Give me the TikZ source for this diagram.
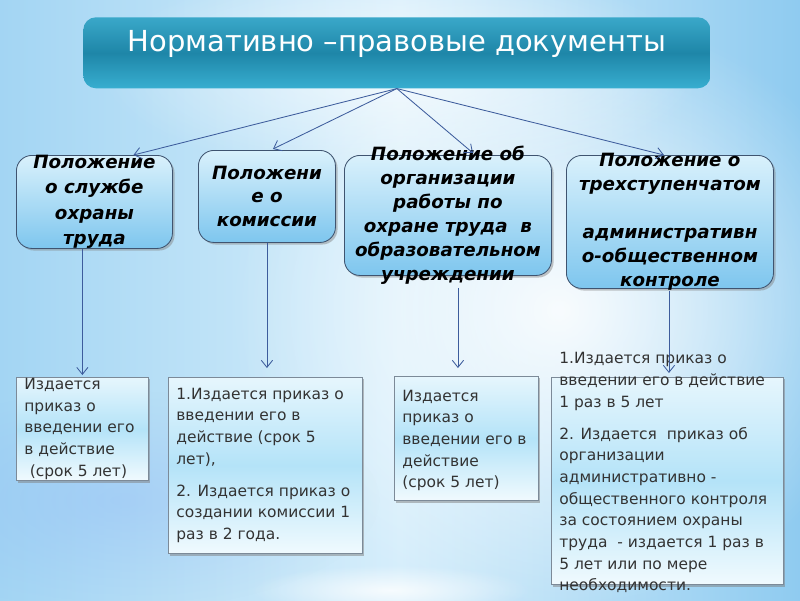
\documentclass[tikz,border=0pt]{standalone}
\usepackage{fontspec}
\setmainfont{DejaVu Sans}
\usetikzlibrary{arrows.meta,calc,shadows,fadings}

\definecolor{bgL}{HTML}{A3D5F3}
\definecolor{bgM}{HTML}{D6EEFB}
\definecolor{bgR}{HTML}{8FCBF0}
\definecolor{headTop}{HTML}{3AA8C9}
\definecolor{headMid}{HTML}{1E86A8}
\definecolor{headBot}{HTML}{38AED0}
\definecolor{polTop}{HTML}{D9F1FC}
\definecolor{polBot}{HTML}{7EC6EE}
\definecolor{polLine}{HTML}{3F5470}
\definecolor{txtTop}{HTML}{E6F6FD}
\definecolor{txtMid}{HTML}{B4E3F8}
\definecolor{txtBot}{HTML}{F0FAFE}
\definecolor{txtLine}{HTML}{7C8A98}
\definecolor{linkBlue}{HTML}{3D5C9C}

\tikzfading[name=glow, inner color=transparent!0, outer color=transparent!100]

\tikzset{
  head/.style={rounded corners=9pt, top color=headTop, bottom color=headBot,
    middle color=headMid, text=white, inner sep=0, anchor=north west,
    font=\fontsize{20.6}{24}\selectfont},
  polbox/.style={rounded corners=11pt, draw=polLine, line width=0.6pt,
    top color=polTop, bottom color=polBot, inner sep=0, anchor=north west,
    drop shadow={shadow xshift=1.5pt, shadow yshift=-1.5pt, opacity=0.45},
    font=\fontsize{13}{17}\selectfont\bfseries\itshape},
  txtbox/.style={draw=txtLine, line width=0.5pt, top color=txtTop,
    bottom color=txtBot, middle color=txtMid, inner xsep=0.2cm, inner ysep=0,
    anchor=north west, text=black!80,
    drop shadow={shadow xshift=1.2pt, shadow yshift=-1.5pt, opacity=0.5},
    font=\fontsize{11}{15.4}\selectfont},
  link/.style={draw=linkBlue, line width=0.6pt,
    -{Straight Barb[length=5pt,width=8pt]}}
}

\begin{document}
\begin{tikzpicture}[x=0.025cm, y=-0.025cm]
  \useasboundingbox (0,0) rectangle (800,600);
  % background
  \begin{scope}
    \clip (0,0) rectangle (800,600);
    \fill[left color=bgL, right color=bgR, middle color=bgM] (0,0) rectangle (800,600);
    \fill[white, path fading=glow, opacity=0.9] (560,310) ellipse [x radius=330, y radius=300];
    \fill[white, path fading=glow, opacity=0.7] (400,70) ellipse [x radius=300, y radius=110];
    \fill[bgL!85!blue, path fading=glow, opacity=0.35] (120,500) ellipse [x radius=260, y radius=110];
    \fill[white, path fading=glow, opacity=0.8] (390,590) ellipse [x radius=140, y radius=25];
  \end{scope}

  \node[head, minimum width=15.675cm, text height=0.86cm, text depth=0.915cm] (doc) at (83,17)
    {Нормативно –правовые документы};

  % upper row
  \node[polbox] (pol1) at (16,155) {\parbox[c][2.325cm][c]{3.9cm}{\centering
    \baselineskip=18pt Положение\\о службе\\охраны\\труда}};
  \node[polbox] (pol2) at (198,150) {\parbox[c][2.3cm][c]{3.425cm}{\centering
    Положени\\е о\\комиссии}};
  \node[polbox] (pol3) at (344,155) {\parbox[c][3cm][c]{5.175cm}{\centering
    Положение об\\организации\\работы по\\охране труда~ в\\образовательном\\учреждении}};
  \node[polbox] (pol4) at (566,155) {\parbox[c][3.325cm][c]{5.175cm}{\centering
    Положение о\\трехступенчатом\\[17pt]административн\\о-общественном\\контроле}};

  % lower row
  \node[txtbox] (txt1) at (16,377) {\parbox[c][2.575cm][c]{2.9cm}{\raggedright
    Издается\\приказ о\\введении его\\в действие\\\hspace*{0.35em}(срок 5 лет)}};
  \node[txtbox] (txt2) at (168,377) {\parbox[c][4.4cm][c]{4.45cm}{\raggedright
    1.Издается приказ о\\введении его в\\действие (срок 5\\лет),\\[0.26cm]2. Издается приказ о\\создании комиссии 1\\раз в 2 года.}};
  \node[txtbox] (txt3) at (394,376) {\parbox[c][3.1cm][c]{3.2cm}{\raggedright
    \vspace*{0.1cm}Издается\\приказ о\\введении его в\\действие\\(срок 5 лет)}};
  \node[txtbox] (txt4) at (551,377) {\parbox[c][5.175cm][t]{5.4cm}{\raggedright
    \vspace*{-0.62cm}1.Издается приказ о\\введении его в действие\\1 раз в 5 лет\\[0.26cm]2. Издается~ приказ об\\организации\\административно -\\общественного контроля\\за состоянием охраны\\труда~ - издается 1 раз в\\5 лет или по мере\\необходимости.}};

  % connectors
  \draw[link] (doc.south) -- ($(pol1.north)+(39,0)$);
  \draw[link] (doc.south) -- ($(pol2.north)+(6,-1)$);
  \draw[link] (doc.south) -- ($(pol3.north)+(25,-2)$);
  \draw[link] (doc.south) -- ($(pol4.north)+(-6,0)$);

  \coordinate (c3) at ($(pol3.south)+(10,12)$);
  \coordinate (c4) at ($(pol4.south)+(-1,2)$);
  \draw[link] (txt1.north |- pol1.south) -- ($(txt1.north)+(0,-2)$);
  \draw[link] (pol2.south) -- ($(pol2.south |- txt2.north)+(0,-9)$);
  \draw[link] (c3) -- ($(c3 |- txt3.north)+(0,-8)$);
  \draw[link] (c4) -- ($(c4 |- txt4.north)+(0,-4)$);
\end{tikzpicture}
\end{document}
